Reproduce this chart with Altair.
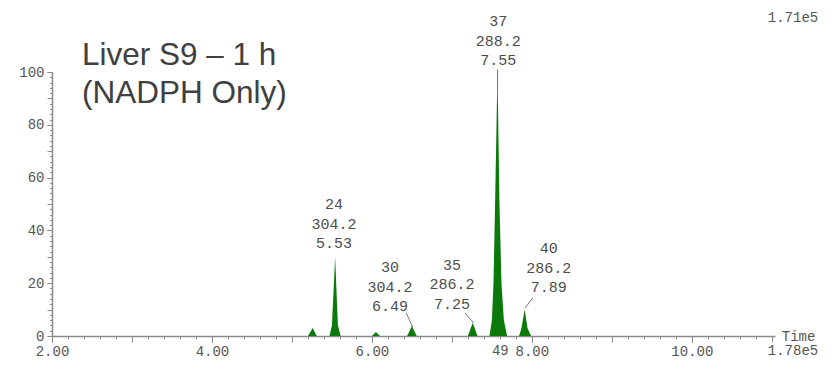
import altair as alt
import pandas as pd

# Chromatogram trace (time in min, relative intensity %)
time = [2.00, 5.20, 5.26, 5.31, 5.47, 5.50, 5.54, 5.575, 5.61,
        6.00, 6.05, 6.10, 6.44, 6.50, 6.56, 7.20, 7.26, 7.32,
        7.47, 7.50, 7.52, 7.54, 7.57, 7.595, 7.62, 7.65, 7.69,
        7.84, 7.87, 7.91, 7.945, 7.99, 11.00]
intensity = [0, 0, 3, 0, 0, 4, 30, 4, 0,
             0, 1.5, 0, 0, 3.8, 0, 0, 5, 0,
             0, 6, 20, 50, 100, 50, 20, 6, 0,
             0, 3, 10, 3, 0, 0]

# Peak annotations (scan, m/z, retention time)
peak_ids = ["24", "30", "35", "37", "40"]
peak_mz = ["304.2", "304.2", "286.2", "288.2", "286.2"]
peak_rt = ["5.53", "6.49", "7.25", "7.55", "7.89"]
label_time = [5.525, 6.225, 7.00, 7.58, 8.21]
label_height = [50.0, 26.1, 26.9, 119.3, 33.3]

# Leader lines from label to peak
lead_t1 = [6.43, 7.165, 8.01, 7.57]
lead_h1 = [8.7, 8.7, 14.4, 101.0]
lead_t2 = [6.51, 7.275, 7.915, 7.57]
lead_h2 = [3.4, 4.9, 10.6, 93.0]

# Title lines
title_lines = ["Liver S9 \u2013 1 h", "(NADPH Only)"]
title_time = [2.375, 2.375]
title_height = [102.6, 88.3]

# Extra instrument text
extra_text = ["1.71e5", "Time", "1.78e5", "49"]
extra_time = [10.95, 11.125, 10.95, 7.5]
extra_height = [120.5, -0.19, -5.76, -5.76]

# Axis ticks
x_minor = [round(2.0 + 0.2 * i, 1) for i in range(46)]
x_major = [2, 4, 6, 8, 10]
y_minor = list(range(0, 101, 2))
y_major = [0, 20, 40, 60, 80, 100]

trace = pd.DataFrame({"t": time, "v": intensity})
labels = pd.DataFrame({
    "t": label_time, "v": label_height,
    "txt": [f"{a}\n{b}\n{c}" for a, b, c in zip(peak_ids, peak_mz, peak_rt)],
})
leads = pd.DataFrame({"t": lead_t1, "v": lead_h1, "t2": lead_t2, "v2": lead_h2})
titles = pd.DataFrame({"t": title_time, "v": title_height, "txt": title_lines})
extras = pd.DataFrame({"t": extra_time, "v": extra_height, "txt": extra_text})

xs = alt.Scale(domain=[2.0, 11.04], nice=False, zero=False)
ys = alt.Scale(domain=[0, 100], nice=False)

MONO = "Liberation Mono"
AX = "#8a8a8a"
LAB = "#555555"

x_minor_axis = alt.Axis(
    values=x_minor, title=None, grid=False, labels=False, orient="bottom",
    tickSize={"condition": {"test": "abs(datum.value - round(datum.value)) < 0.001", "value": 6}, "value": 3},
    domainColor=AX, domainWidth=1.5, tickColor=AX, tickWidth=1,
)
y_minor_axis = alt.Axis(
    values=y_minor, title=None, grid=False, labels=False, orient="left",
    tickSize={"condition": {"test": "datum.value % 10 == 0", "value": 5}, "value": 2.5},
    domainColor=AX, domainWidth=1.5, tickColor=AX, tickWidth=1,
)
x_major_axis = alt.Axis(
    values=x_major, title=None, grid=False, orient="bottom", domain=False,
    format=".2f", tickSize=6, tickColor=AX, tickWidth=1,
    labelFont=MONO, labelFontSize=14, labelColor=LAB, labelPadding=2,
    labelFlush=False, labelOverlap=False,
)
y_major_axis = alt.Axis(
    values=y_major, title=None, grid=False, orient="left", domain=False,
    format="d", tickSize=5, tickColor=AX, tickWidth=1,
    labelFont=MONO, labelFontSize=14, labelColor=LAB, labelPadding=3,
    labelFlush=False, labelOverlap=False,
)

area = alt.Chart(trace).mark_area(color="#0b7a0b", interpolate="linear").encode(
    x=alt.X("t:Q", scale=xs, axis=x_minor_axis),
    y=alt.Y("v:Q", scale=ys, axis=y_minor_axis),
)

lead = alt.Chart(leads).mark_rule(color="#777777", strokeWidth=1).encode(
    x=alt.X("t:Q", scale=xs, axis=x_major_axis),
    y=alt.Y("v:Q", scale=ys, axis=y_major_axis),
    x2="t2:Q", y2="v2:Q",
)

peak_text = alt.Chart(labels).mark_text(
    font=MONO, fontSize=15, color="#4d4d4d", lineBreak="\n", lineHeight=19.5,
    align="center", baseline="middle",
).encode(x=alt.X("t:Q", axis=None), y=alt.Y("v:Q", axis=None), text="txt:N")

title_text = alt.Chart(titles).mark_text(
    font="Liberation Sans", fontSize=31.5, color="#404040",
    align="left", baseline="alphabetic",
).encode(x=alt.X("t:Q", axis=None), y=alt.Y("v:Q", axis=None), text="txt:N")

extra = alt.Chart(extras).mark_text(
    font=MONO, fontSize=14, color=LAB, align="left", baseline="middle",
).encode(x=alt.X("t:Q", axis=None), y=alt.Y("v:Q", axis=None), text="txt:N")

chart = alt.layer(area, lead, peak_text, title_text, extra).resolve_axis(
    x="independent", y="independent"
).properties(
    width=723, height=264,
    autosize=alt.AutoSizeParams(type="none"),
    padding={"left": 44, "top": 64, "right": 49, "bottom": 22},
).configure_view(stroke=None)

chart.save("out.html", embed_options={"renderer": "svg", "actions": False})
